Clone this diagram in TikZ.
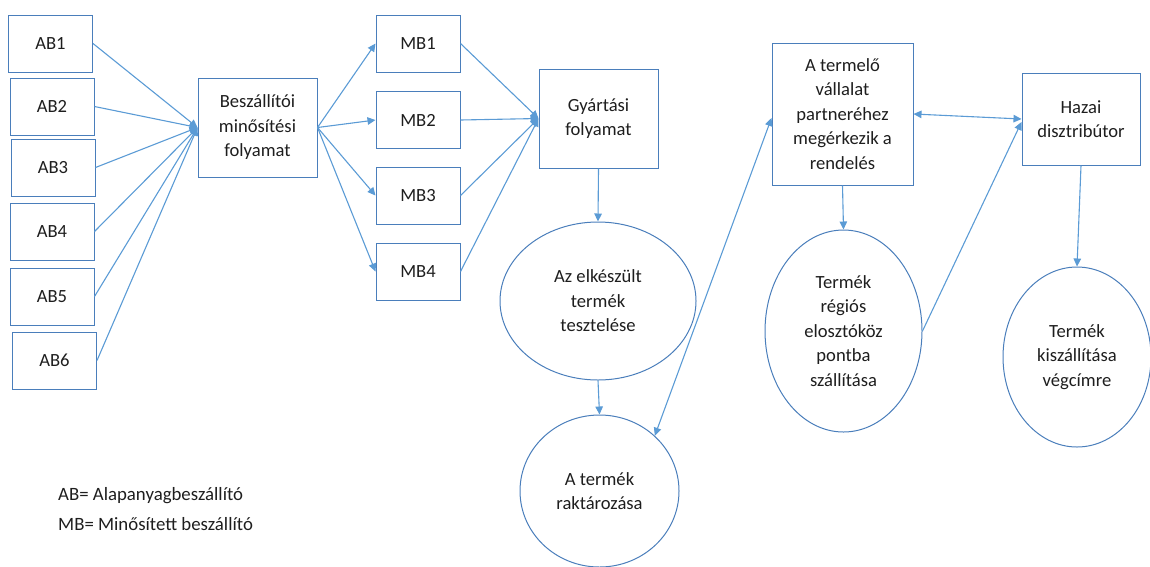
\documentclass[tikz,border=0pt]{standalone}
\usepackage{fontspec}
\setmainfont{Carlito}
\usetikzlibrary{arrows.meta,shapes.geometric}
\definecolor{boxblue}{HTML}{4A7EBB}
\definecolor{arrblue}{HTML}{5B9BD5}
\definecolor{txt}{HTML}{1E1E1E}
\tikzset{
  box/.style={draw=boxblue, line width=1pt, rectangle, inner sep=0pt, align=center, text=txt,
    font=\fontsize{18.6}{24.5}\selectfont},
  oval/.style={draw=boxblue, line width=1pt, ellipse, inner sep=0pt, align=center, text=txt,
    font=\fontsize{18.6}{24.5}\selectfont},
  conn/.style={draw=arrblue, line width=1.1pt, -{Triangle[length=8pt,width=7.5pt]}},
  dconn/.style={draw=arrblue, line width=1.1pt, {Triangle[length=8pt,width=7.5pt]}-{Triangle[length=8pt,width=7.5pt]}},
  legend/.style={anchor=base west, inner sep=0pt, text=txt, font=\fontsize{18.8}{24}\selectfont}
}
\begin{document}
\begin{tikzpicture}[x=1pt,y=-1pt]
\useasboundingbox (0,0) rectangle (1150,566);
% AB boxes
\node[box, minimum width=84, minimum height=57] (ab1) at (50.5,43.5) {AB1};
\node[box, minimum width=84, minimum height=57] (ab2) at (52,106.5) {AB2};
\node[box, minimum width=84, minimum height=57] (ab3) at (53,167.5) {AB3};
\node[box, minimum width=84, minimum height=57] (ab4) at (52,231.5) {AB4};
\node[box, minimum width=84, minimum height=57] (ab5) at (52,296.5) {AB5};
\node[box, minimum width=84, minimum height=57] (ab6) at (54.5,360.5) {AB6};
% Beszallitoi
\node[box, minimum width=119, minimum height=99] (besz) at (257.5,127.5) {Beszállítói\\minősítési\\folyamat};
% MB boxes
\node[box, minimum width=84, minimum height=57] (mb1) at (418,43.5) {MB1};
\node[box, minimum width=84, minimum height=57] (mb2) at (418,120) {MB2};
\node[box, minimum width=84, minimum height=57] (mb3) at (418,195.5) {MB3};
\node[box, minimum width=84, minimum height=57] (mb4) at (418,271.5) {MB4};
% Gyartasi
\node[box, minimum width=119, minimum height=99] (gy) at (598.5,118.5) {Gyártási\\folyamat};
% ellipses
\node[oval, minimum width=196, minimum height=158] (test) at (598,301) {Az elkészült\\termék\\tesztelése};
\node[oval, minimum width=159, minimum height=152] (rakt) at (599.5,491) {A termék\\raktározása};
% Termelo
\node[box, minimum width=141, minimum height=142] (term) at (842.5,114) {A termelő\\vállalat\\partneréhez\\megérkezik a\\rendelés};
\node[box, minimum width=118, minimum height=92] (haz) at (1081,119) {Hazai\\disztribútor};
\node[oval, minimum width=157, minimum height=202] (elo) at (843.5,331) {Termék\\régiós\\elosztóköz\\pontba\\szállítása};
\node[oval, minimum width=148, minimum height=180] (kisz) at (1077,357) {Termék\\kiszállítása\\végcímre};
% legend
\node[legend] (leg1) at (58,500) {AB= Alapanyagbeszállító};
\node[legend] (leg2) at (58,530) {MB= Minősített beszállító};
% connectors
\foreach \i in {1,...,6} { \draw[conn] (ab\i.east) -- (besz.west); }
\foreach \i in {1,...,4} { \draw[conn] (besz.east) -- (mb\i.west); }
\foreach \i in {1,...,4} { \draw[conn] (mb\i.east) -- (gy.west); }
\draw[conn] (gy.south) -- (test.north);
\draw[conn] (test.south) -- (rakt.north);
\draw[dconn] (rakt.45) -- ([yshift=-4pt]term.west);
\draw[dconn] (term.east) -- (haz.west);
\draw[conn] (term.south) -- (elo.north);
\draw[conn] (elo.east) -- ([yshift=-3pt]haz.west);
\draw[conn] (haz.south) -- (kisz.north);
\end{tikzpicture}
\end{document}
